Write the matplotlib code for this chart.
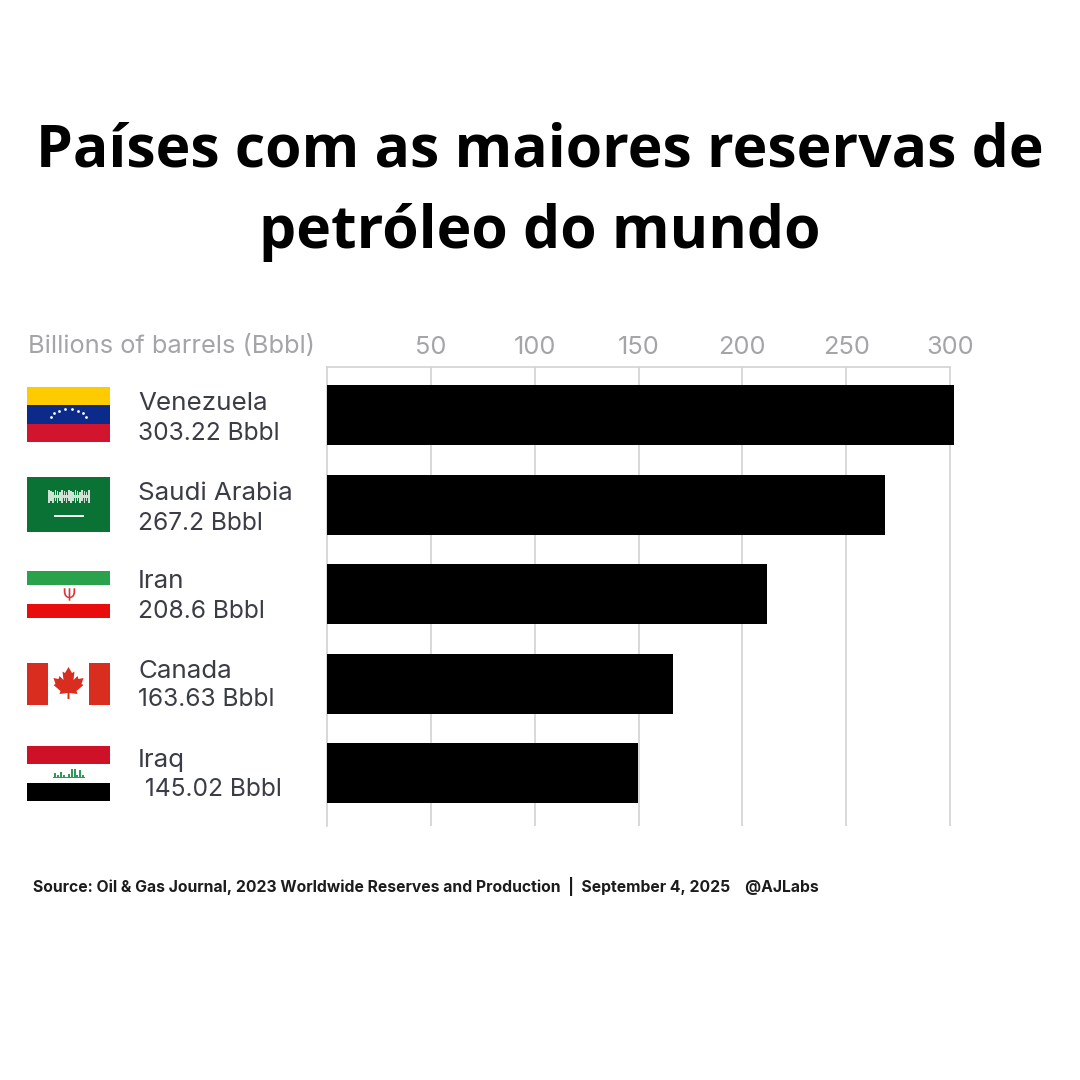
import numpy as np
import matplotlib
matplotlib.use("Agg")
import matplotlib.pyplot as plt
from matplotlib.patches import Rectangle, Polygon

# ---- data ----
countries = ["Venezuela", "Saudi Arabia", "Iran", "Canada", "Iraq"]
value_labels = ["303.22 Bbbl", "267.2 Bbbl", "208.6 Bbbl", "163.63 Bbbl", " 145.02 Bbbl"]
bar_lengths = [302.0, 268.7, 211.9, 166.6, 149.8]   # as drawn in the picture
ticks = [50, 100, 150, 200, 250, 300]
title = "Países com as maiores reservas de\npetróleo do mundo"
unit_label = "Billions of barrels (Bbbl)"
source = "Source: Oil & Gas Journal, 2023 Worldwide Reserves and Production  |  September 4, 2025    @AJLabs"

LABEL_FONT = ["Inter", "DejaVu Sans"]
W = H = 1080
fig = plt.figure(figsize=(10.8, 10.8), dpi=100, facecolor="white")

# overlay in pixel coordinates for page furniture
pg = fig.add_axes([0, 0, 1, 1], zorder=3)
pg.set_xlim(0, W); pg.set_ylim(H, 0); pg.axis("off")

# chart axes
L, R, T, B = 327, 958, 367, 826
ax = fig.add_axes([L / W, 1 - B / H, (R - L) / W, (B - T) / H], zorder=2)
ax.patch.set_alpha(0)
px = 623 / 300
ax.set_xlim(0, (R - L) / px)
ax.set_ylim(4.587, -0.536)
ypos = np.arange(len(countries))
ax.barh(ypos, bar_lengths, height=0.67, color="black", zorder=3)
ax.xaxis.tick_top()
ax.set_xticks(ticks)
ax.set_xticklabels([str(t) for t in ticks], fontsize=18.3, color="#a3a5a8", family=LABEL_FONT)
ax.tick_params(axis="x", length=0, pad=6)
ax.set_yticks([])
ax.grid(axis="x", color="#d2d2d2", lw=1.2, zorder=1)
for s in ["right", "bottom"]:
    ax.spines[s].set_visible(False)
ax.spines["left"].set_color("#d2d2d2"); ax.spines["left"].set_linewidth(1.2)
ax.spines["top"].set_color("#d2d2d2"); ax.spines["top"].set_linewidth(1.2)
ax.spines["top"].set_bounds(0, 300)

# title
pg.text(540, 151, title.split("\n")[0], ha="center", va="center", fontsize=42.4,
        fontweight="bold", family="Open Sans", color="black")
pg.text(540, 233, title.split("\n")[1], ha="center", va="center", fontsize=42.4,
        fontweight="bold", family="Open Sans", color="black")

pg.text(28, 347, unit_label, ha="left", va="center", fontsize=18.3, color="#a3a5a8",
        family=LABEL_FONT)

# country labels
name_y = [404, 493, 582, 671, 760]
val_y = [434, 523, 612, 700, 790]
for n, v, a, b in zip(countries, value_labels, name_y, val_y):
    pg.text(138, a, n, ha="left", va="center", fontsize=18.7, color="#3a3d45", family=LABEL_FONT)
    pg.text(137.5, b, v, ha="left", va="center", fontsize=17.7, color="#3a3d45", family=LABEL_FONT)

pg.text(33, 887, source, ha="left", va="center", fontsize=11.3, fontweight="bold",
        color="#1c1c1c", family=LABEL_FONT)

# flags (decorative)
def rect(x0, y0, x1, y1, c):
    pg.add_patch(Rectangle((x0, y0), x1 - x0, y1 - y0, fc=c, ec="none"))

# Venezuela
rect(27, 387, 110, 405, "#fdcb00"); rect(27, 405, 110, 424, "#0c2a8a"); rect(27, 424, 110, 442, "#d2142f")
ang = np.radians(np.linspace(165, 15, 8))
pg.scatter(68.5 + 18 * np.cos(ang), 420 - 11 * np.sin(ang), s=4, c="white", lw=0, zorder=4)

# Saudi Arabia
rect(27, 477, 110, 532, "#0b7236")
for i, x in enumerate(np.linspace(48, 88, 19)):
    rect(x, 490 + (i % 3), x + 1.5, 503 - (i % 2) * 2, "#cfe3d5")
rect(48, 495, 89, 497.5, "#cfe3d5")
rect(54, 515, 84, 516.5, "#f2f7f3")

# Iran
rect(27, 571, 110, 585, "#2aa24b"); rect(27, 604, 110, 618, "#e80c0c")
pg.scatter([68.5], [594], s=80, marker="$\\Psi$", c="#d8343a", lw=0, zorder=4)

# Canada
rect(27, 663, 48, 705, "#d92e1f"); rect(89, 663, 110, 705, "#d92e1f")
leaf = [(0, -16), (3.5, -10), (6, -11.5), (5, -3), (9, -7), (10, -4), (15, -5), (13, 1), (15, 2),
        (8, 8), (9, 11), (1, 10), (1, 16), (-1, 16), (-1, 10), (-9, 11), (-8, 8), (-15, 2), (-13, 1),
        (-15, -5), (-10, -4), (-9, -7), (-5, -3), (-6, -11.5), (-3.5, -10)]
pg.add_patch(Polygon([(68.5 + a, 683 + b) for a, b in leaf], fc="#d92e1f", ec="none"))

# Iraq
rect(27, 746, 110, 764, "#ce1126"); rect(27, 783, 110, 801, "#000000")
for x, h in zip([54, 57, 60, 63, 68, 71, 74, 76, 79, 82], [5, 3, 6, 3, 4, 9, 9, 3, 8, 3]):
    rect(x, 778 - h, x + 1.5, 778, "#2f9a55")
rect(53, 776.5, 85, 778, "#2f9a55")

fig.savefig("out.png", dpi=100)
